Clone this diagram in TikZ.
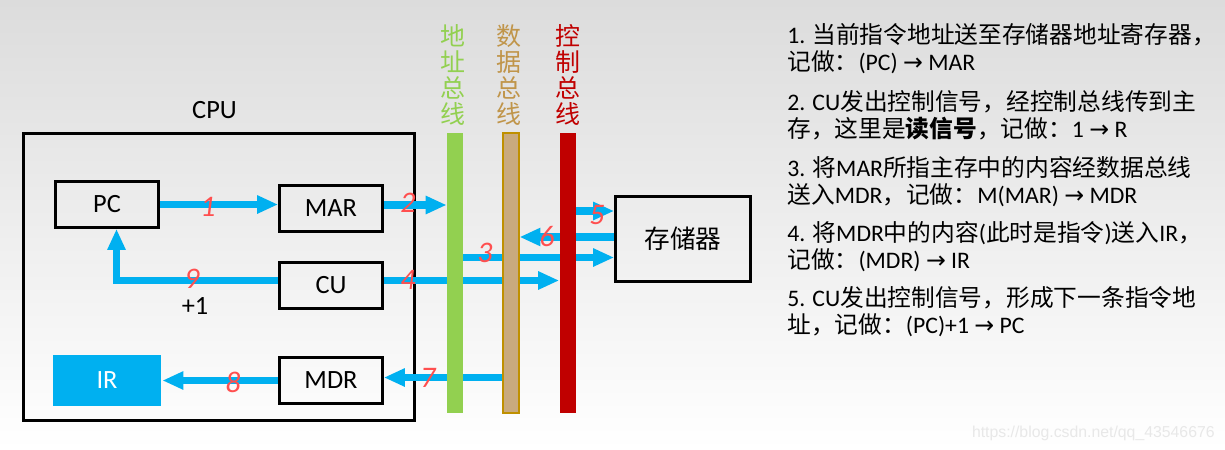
\documentclass[tikz,border=0pt]{standalone}
\usepackage{fontspec}
\setmainfont{Carlito}
\newfontfamily\cjk{Noto Sans CJK SC}
\newfontfamily\symf{DejaVu Sans}
\newfontfamily\markfont{Liberation Sans}
\usetikzlibrary{arrows.meta}
\definecolor{flowblue}{HTML}{00B0F0}
\definecolor{addrgreen}{HTML}{92D050}
\definecolor{datatan}{HTML}{C9AA7E}
\definecolor{dataedge}{HTML}{BF9000}
\definecolor{datagold}{HTML}{C0954A}
\definecolor{ctrlred}{HTML}{C00000}
\definecolor{numred}{HTML}{FF4F4F}
\definecolor{bgtop}{HTML}{DCDCDC}
\newcommand\pxu{0.02cm}
\newcommand\zh[1]{{\cjk #1}}
\newcommand\ra{{\symf →}}
\pgfdeclarelayer{bg}
\pgfdeclarelayer{front}
\pgfsetlayers{bg,main,front}

\begin{document}
\begin{tikzpicture}[x=0.02cm,y=-0.02cm,
    box/.style={draw,line width=1.6pt,minimum width=103*\pxu,minimum height=46*\pxu,inner sep=0pt,font=\fontsize{15}{15}\selectfont},
    flow/.style={draw=flowblue,line width=4.5pt,-{Triangle[width=9.7pt,length=11.9pt]}},
    bus/.style={minimum width=16*\pxu,minimum height=280*\pxu,inner sep=0pt},
    buslabel/.style={align=center,inner sep=0pt,font=\cjk\fontsize{14.2}{14.8}\selectfont},
    num/.style={text=numred,font=\itshape\fontsize{17}{17}\selectfont,inner sep=0pt},
    stepline/.style={anchor=base west,inner sep=0pt,align=left,font=\fontsize{13.5}{15.1}\selectfont}]
    \begin{pgfonlayer}{bg}
        \shade[top color=bgtop,bottom color=white] (0,0) rectangle (1225,450);
    \end{pgfonlayer}
    \useasboundingbox (0,0) rectangle (1225,450);
    % CPU and its registers
    \node (cpu) [draw,line width=1.6pt,minimum width=391*\pxu,minimum height=287*\pxu] at (219,277) {};
    \node (cpulabel) [font=\fontsize{15}{15}\selectfont] at (214.5,110.5) {CPU};
    \node (pc) [box] at (107,204.5) {PC};
    \node (mar) [box] at (331,208.5) {MAR};
    \node (cu) [box] at (331,285.5) {CU};
    \node (mdr) [box] at (331,380.5) {MDR};
    \node (ir) [box,draw=none,fill=flowblue,text=white,minimum width=108*\pxu,minimum height=51*\pxu] at (107,380.5) {IR};
    \node (mem) [box,minimum width=135*\pxu,minimum height=85*\pxu,font=\cjk\fontsize{14.6}{14.6}\selectfont] at (683,239) {存储器};
    % buses
    \begin{pgfonlayer}{front}
        \node (abus) [bus,fill=addrgreen] at (455,273) {};
        \node (dbus) [bus,fill=datatan,draw=dataedge,line width=0.6pt] at (511,273) {};
        \node (cbus) [bus,fill=ctrlred] at (567.5,273) {};
    \end{pgfonlayer}
    \node (alabel) [buslabel,text=addrgreen] at (453,74.5) {地\\址\\总\\线};
    \node (dlabel) [buslabel,text=datagold] at (508.5,74.5) {数\\据\\总\\线};
    \node (clabel) [buslabel,text=ctrlred] at (568,74.5) {控\\制\\总\\线};
    % rows of the arrows
    \coordinate (row1) at (0,205);
    \coordinate (row5) at (0,211);
    \coordinate (row6) at (0,237);
    \coordinate (row3) at (0,257.5);
    \coordinate (row4) at (0,280.5);
    \coordinate (row7) at (0,377.5);
    \draw [flow] (pc.east) -- (pc.east -| mar.west);
    \draw [flow] (mar.east |- row1) -- (abus.west |- row1);
    \draw [flow] (cu.west |- row4) -| ([xshift=9.5*\pxu]pc.south);
    \draw [flow] (cu.east |- row4) -- (cbus.west |- row4);
    \draw [flow] (abus.east |- row3) -- (mem.west |- row3);
    \draw [flow] (mem.west |- row6) -- (dbus.east |- row6);
    \draw [flow] (cbus.east |- row5) -- (mem.west |- row5);
    \draw [flow] (dbus.west |- row7) -- (mdr.east |- row7);
    \draw [flow] (mdr.west) -- (ir.east);
    % step numbers
    \node (n1) [num] at (208,207) {1};
    \node (n2) [num] at (408,203) {2};
    \node (n3) [num] at (485,253) {3};
    \node (n4) [num] at (408,280) {4};
    \node (n5) [num] at (597,215) {5};
    \node (n6) [num] at (547,237) {6};
    \node (n7) [num] at (428,378) {7};
    \node (n8) [num] at (233,382) {8};
    \node (n9) [num] at (192,279) {9};
    \node (plus) [font=\fontsize{15}{15}\selectfont,inner sep=0pt] at (195,306) {+1};
    % steps
    \node (s1) [stepline] at (787,70) {1. \zh{当前指令地址送至存储器地址寄存器，}\\\zh{记做：}(PC) \ra{} MAR};
    \node (s2) [stepline] at (787,137) {2. CU\zh{发出控制信号，经控制总线传到主}\\\zh{存，这里是}{\cjk\bfseries 读信号}\zh{，记做：}1 \ra{} R};
    \node (s3) [stepline] at (787,203) {3. \zh{将}MAR\zh{所指主存中的内容经数据总线}\\\zh{送入}MDR\zh{，记做：}M(MAR) \ra{} MDR};
    \node (s4) [stepline] at (787,268) {4. \zh{将}MDR\zh{中的内容}(\zh{此时是指令})\zh{送入}IR\zh{，}\\\zh{记做：}(MDR) \ra{} IR};
    \node (s5) [stepline] at (787,333) {5. CU\zh{发出控制信号，形成下一条指令地}\\\zh{址，记做：}(PC)+1 \ra{} PC};
    \node (mark) [anchor=base east,inner sep=0pt,text=black!9,font=\markfont\fontsize{9}{9}\selectfont] at (1215,437) {https://blog.csdn.net/qq\_43546676};
\end{tikzpicture}
\end{document}
